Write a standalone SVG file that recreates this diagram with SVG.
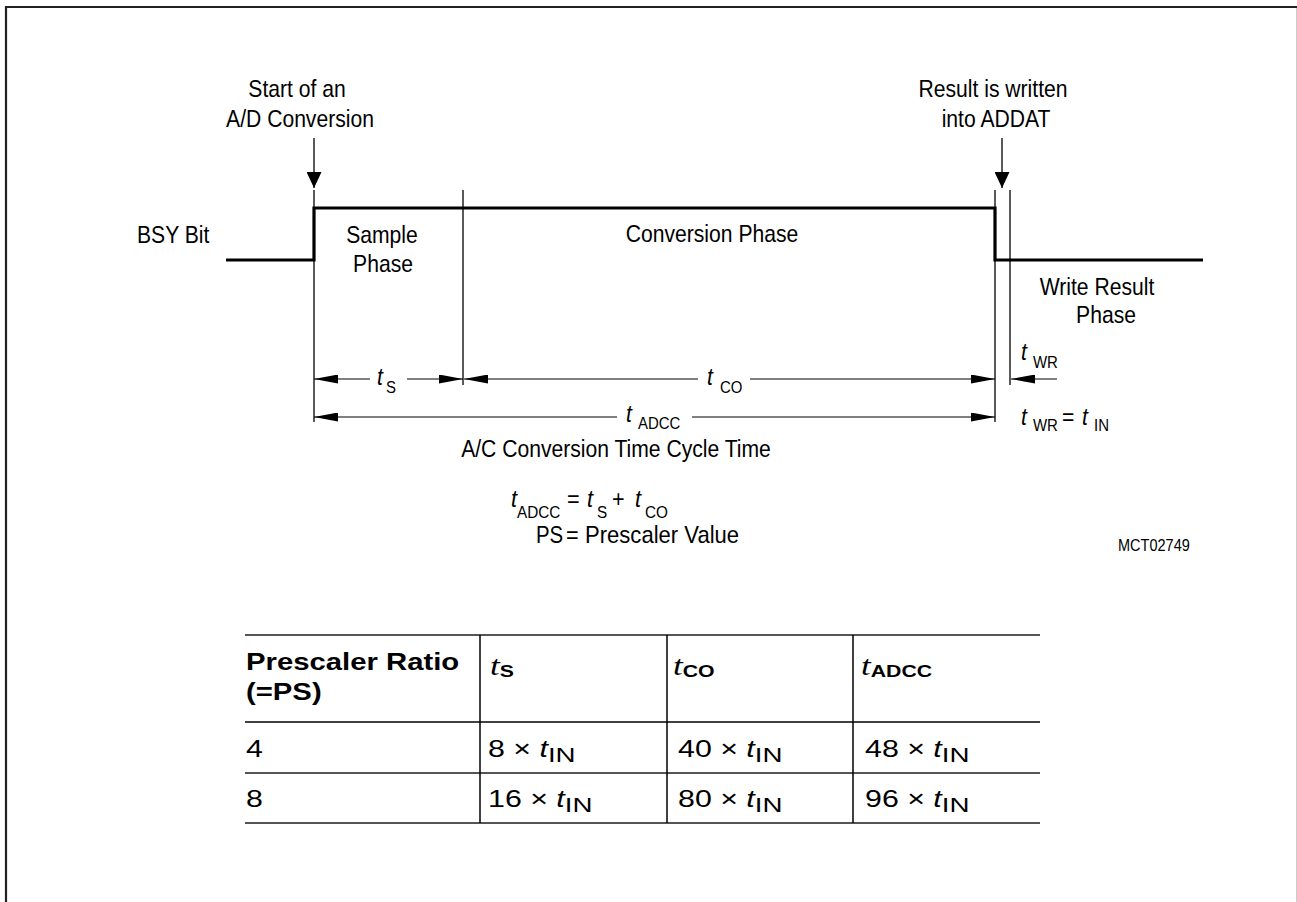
<svg xmlns="http://www.w3.org/2000/svg" width="1297" height="902" viewBox="0 0 1297 902">
<style>
  text { font-family: "Liberation Sans", Arial, sans-serif; fill: #000; }
  .lbl { font-size: 24px; }
  .mid { text-anchor: middle; }
  .ti { font-size: 24px; font-style: italic; }
  .sub { font-size: 17px; }
  .small { font-size: 16.5px; }
  .thin { stroke: #000; stroke-width: 1.3; fill: none; }
  .dim { stroke: #000; stroke-width: 1; fill: none; }
  .wave { stroke: #000; stroke-width: 3.2; fill: none; stroke-linejoin: miter; }
  .hb { font-size: 24px; font-weight: bold; }
  .tser { font-family: "Liberation Serif", "Times New Roman", serif; font-style: italic; font-size: 28px; }
  .subb { font-size: 17px; font-weight: bold; }
  .tb { font-size: 23px; }
  .tsub { font-size: 21px; }
  .hline { stroke: #555; stroke-width: 2; }
  .vline { stroke: #000; stroke-width: 1.5; }
</style>
<defs>
  <marker id="ah" markerUnits="userSpaceOnUse" markerWidth="24" markerHeight="9" refX="24" refY="4.5" orient="auto-start-reverse">
    <path d="M0,0 L24,4.5 L0,9 z" fill="#000"/>
  </marker>
  <marker id="dn" markerUnits="userSpaceOnUse" markerWidth="16" markerHeight="15" refX="16" refY="7.5" orient="auto">
    <path d="M0,0 L16,7.5 L0,15 z" fill="#000"/>
  </marker>
</defs>

<g id="frame">
  <line x1="5" y1="7" x2="1297" y2="7" stroke="#222" stroke-width="2.2"/>
  <line x1="6" y1="6" x2="6" y2="902" stroke="#222" stroke-width="2.2"/>
  <line x1="1296.5" y1="8" x2="1296.5" y2="902" stroke="#ccc" stroke-width="1"/>
</g>

<g id="bsy-waveform">
  <polyline class="wave" points="226,260 314,260 314,208 995,208 995,260 1203,260"/>
  <text class="lbl" transform="translate(137,243) scale(0.88,1)">BSY Bit</text>
</g>

<g id="start-event">
  <text class="lbl mid" transform="translate(297,97) scale(0.88,1)">Start of an</text>
  <text class="lbl mid" transform="translate(300,127) scale(0.88,1)">A/D Conversion</text>
</g>

<g id="result-event">
  <text class="lbl mid" transform="translate(993,97) scale(0.88,1)">Result is written</text>
  <text class="lbl mid" transform="translate(996,127) scale(0.88,1)">into ADDAT</text>
</g>

<g id="sample-phase">
  <text class="lbl mid" transform="translate(382,243) scale(0.88,1)">Sample</text>
  <text class="lbl mid" transform="translate(383,272) scale(0.88,1)">Phase</text>
</g>

<g id="conversion-phase">
  <text class="lbl mid" transform="translate(712,242) scale(0.88,1)">Conversion Phase</text>
</g>

<g id="write-result-phase">
  <text class="lbl mid" transform="translate(1097,295) scale(0.88,1)">Write Result</text>
  <text class="lbl mid" transform="translate(1106,323) scale(0.88,1)">Phase</text>
</g>

<g id="connectors">
  <!-- event arrows -->
  <line class="thin" x1="314" y1="138" x2="314" y2="188" marker-end="url(#dn)"/>
  <line class="thin" x1="1002" y1="138" x2="1002" y2="188" marker-end="url(#dn)"/>
  <!-- extension lines -->
  <line class="thin" x1="314" y1="190" x2="314" y2="422"/>
  <line class="thin" x1="463" y1="190" x2="463" y2="385"/>
  <line class="thin" x1="995" y1="190" x2="995" y2="422"/>
  <line class="thin" x1="1010" y1="190" x2="1010" y2="385"/>
  <!-- t_S -->
  <line class="dim" x1="314" y1="379" x2="370" y2="379" marker-start="url(#ah)"/>
  <line class="dim" x1="407" y1="379" x2="463" y2="379" marker-end="url(#ah)"/>
  <!-- t_CO -->
  <line class="dim" x1="464" y1="379" x2="698" y2="379" marker-start="url(#ah)"/>
  <line class="dim" x1="750" y1="379" x2="995" y2="379" marker-end="url(#ah)"/>
  <!-- t_ADCC -->
  <line class="dim" x1="314" y1="417" x2="617" y2="417" marker-start="url(#ah)"/>
  <line class="dim" x1="692" y1="417" x2="995" y2="417" marker-end="url(#ah)"/>
  <!-- t_WR -->
  <line class="dim" x1="1057" y1="379" x2="1011" y2="379" marker-end="url(#ah)"/>
</g>

<g id="dimension-labels">
  <text class="ti" transform="translate(377,385) scale(0.88,1)">t</text>
  <text class="sub" transform="translate(386,393) scale(0.88,1)">S</text>
  <text class="ti" transform="translate(707,385) scale(0.88,1)">t</text>
  <text class="sub" transform="translate(720,393) scale(0.88,1)">CO</text>
  <text class="ti" transform="translate(626,422) scale(0.88,1)">t</text>
  <text class="sub" transform="translate(638,429) scale(0.88,1)">ADCC</text>
  <text class="lbl mid" transform="translate(616,457) scale(0.88,1)">A/C Conversion Time Cycle Time</text>
  <text class="ti" transform="translate(1021,360) scale(0.88,1)">t</text>
  <text class="sub" transform="translate(1033,368) scale(0.88,1)">WR</text>
  <text class="ti" transform="translate(1021,425) scale(0.88,1)">t</text>
  <text class="sub" transform="translate(1033,431) scale(0.88,1)">WR</text>
  <text class="lbl" transform="translate(1062,425) scale(0.88,1)">=</text>
  <text class="ti" transform="translate(1082,425) scale(0.88,1)">t</text>
  <text class="sub" transform="translate(1094,431) scale(0.88,1)">IN</text>
</g>

<g id="formula">
  <text class="ti" transform="translate(511,507) scale(0.9,1)">t</text>
  <text class="sub" transform="translate(517,518) scale(0.9,1)">ADCC</text>
  <text class="lbl" transform="translate(567,507) scale(0.9,1)">=</text>
  <text class="ti" transform="translate(587,507) scale(0.9,1)">t</text>
  <text class="sub" transform="translate(597,518) scale(0.9,1)">S</text>
  <text class="lbl" transform="translate(612,507) scale(0.9,1)">+</text>
  <text class="ti" transform="translate(635,507) scale(0.9,1)">t</text>
  <text class="sub" transform="translate(645,518) scale(0.9,1)">CO</text>
  <text class="lbl" transform="translate(536,543) scale(0.85,1)">PS</text>
  <text class="lbl" transform="translate(566,543) scale(0.9,1)">=</text>
  <text class="lbl" transform="translate(585,543) scale(0.92,1)">Prescaler Value</text>
</g>

<g id="figure-id">
  <text class="small" transform="translate(1118,551) scale(0.88,1)">MCT02749</text>
</g>

<g id="table">
  <line class="hline" x1="245" y1="635" x2="1040" y2="635" stroke="#666"/>
  <line class="vline" x1="245" y1="722" x2="1040" y2="722"/>
  <line class="hline" x1="245" y1="773" x2="1040" y2="773"/>
  <line class="hline" x1="245" y1="823" x2="1040" y2="823"/>
  <line class="vline" x1="480" y1="635" x2="480" y2="823"/>
  <line class="vline" x1="667" y1="635" x2="667" y2="823"/>
  <line class="vline" x1="853" y1="635" x2="853" y2="823"/>

  <text class="hb" transform="translate(246,670) scale(1.22,1)">Prescaler Ratio</text>
  <text class="hb" transform="translate(246,700) scale(1.22,1)">(=PS)</text>
  <text transform="translate(490,675) scale(1.25,1)"><tspan class="tser">t</tspan><tspan class="subb" dy="2">S</tspan></text>
  <text transform="translate(673,675) scale(1.25,1)"><tspan class="tser">t</tspan><tspan class="subb" dy="2">CO</tspan></text>
  <text transform="translate(861,675) scale(1.25,1)"><tspan class="tser">t</tspan><tspan class="subb" dy="2">ADCC</tspan></text>

  <text class="tb" transform="translate(246,757) scale(1.32,1)">4</text>
  <text class="tb" transform="translate(488,757) scale(1.32,1)">8 × <tspan font-style="italic">t</tspan><tspan class="tsub" dy="5">IN</tspan></text>
  <text class="tb" transform="translate(678,757) scale(1.32,1)">40 × <tspan font-style="italic">t</tspan><tspan class="tsub" dy="5">IN</tspan></text>
  <text class="tb" transform="translate(865,757) scale(1.32,1)">48 × <tspan font-style="italic">t</tspan><tspan class="tsub" dy="5">IN</tspan></text>

  <text class="tb" transform="translate(246,807) scale(1.32,1)">8</text>
  <text class="tb" transform="translate(488,807) scale(1.32,1)">16 × <tspan font-style="italic">t</tspan><tspan class="tsub" dy="5">IN</tspan></text>
  <text class="tb" transform="translate(678,807) scale(1.32,1)">80 × <tspan font-style="italic">t</tspan><tspan class="tsub" dy="5">IN</tspan></text>
  <text class="tb" transform="translate(865,807) scale(1.32,1)">96 × <tspan font-style="italic">t</tspan><tspan class="tsub" dy="5">IN</tspan></text>
</g>
</svg>
